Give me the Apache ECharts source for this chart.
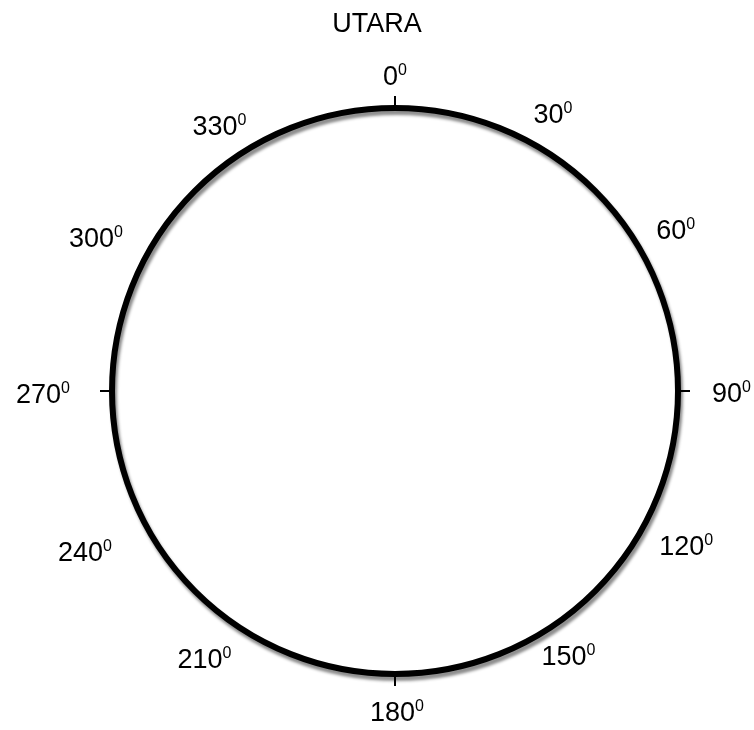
<!DOCTYPE html>
<html>
<head>
<meta charset="utf-8">
<script src="https://cdn.jsdelivr.net/npm/echarts@6/dist/echarts.min.js"></script>
<style>html,body{margin:0;padding:0;background:#fff}#c{width:754px;height:730px}</style>
</head>
<body>
<div id="c"></div>
<script>
var titleText = 'UTARA';
var labelAngles = [0, 30, 60, 90, 120, 150, 180, 210, 240, 270, 300, 330];
var tickAngles = [0, 90, 180, 270];
var degreeMark = '0';

// label nudges (presentation only): [dx, dy] in px
var labelNudge = {
  0: [0, 7], 30: [-14, 4], 60: [-3, 8], 90: [12, 4], 120: [0, -11], 150: [-6, -13],
  180: [2, 3], 210: [-11, -10], 240: [-19, -5], 270: [-20, 5], 300: [-8, 16], 330: [4, 16]
};

function paddingFor(angle, d) {
  var dx = d[0], dy = d[1];
  var rad = angle * Math.PI / 180;
  var sx = Math.sin(rad), sy = -Math.cos(rad);
  var align = Math.abs(sx) < 0.3 ? 'center' : (sx > 0 ? 'left' : 'right');
  var valign = Math.abs(sy) < 0.3 ? 'middle' : (sy > 0 ? 'top' : 'bottom');
  var p = [0, 0, 0, 0];
  if (align === 'left') p[3] = dx;
  else if (align === 'right') p[1] = -dx;
  else { if (dx > 0) p[3] = 2 * dx; else p[1] = -2 * dx; }
  if (valign === 'top') p[0] = dy;
  else if (valign === 'bottom') p[2] = -dy;
  else { if (dy > 0) p[0] = 2 * dy; else p[2] = -2 * dy; }
  return p;
}

var chart = echarts.init(document.getElementById('c'));
var font = '"Liberation Sans", Arial, sans-serif';
var C = [395, 391], R = 283;
var option = {
  backgroundColor: '#ffffff',
  animation: false,
  title: {
    text: titleText, left: 'center', top: 6,
    textStyle: { fontFamily: font, fontSize: 27, fontWeight: 'normal', color: '#000' }
  },
  polar: [
    { center: C, radius: R },
    { center: C, radius: R }
  ],
  angleAxis: [
    {
      polarIndex: 0, type: 'value', min: 0, max: 360, interval: 90, startAngle: 90, clockwise: true,
      axisLine: { show: true, lineStyle: { color: '#000', width: 6, shadowColor: 'rgba(0,0,0,0.45)', shadowBlur: 3, shadowOffsetX: 2, shadowOffsetY: 4 } },
      axisTick: { show: true, inside: false, length: 12, lineStyle: { color: '#000', width: 2 } },
      axisLabel: { show: false },
      splitLine: { show: false }
    },
    {
      polarIndex: 1, type: 'category', boundaryGap: true, startAngle: 105, clockwise: true,
      data: labelAngles.map(function (a) {
        return { value: String(a), textStyle: { padding: paddingFor(a, labelNudge[a] || [0, 0]) } };
      }),
      axisLine: { show: false },
      axisTick: { show: false },
      splitLine: { show: false },
      axisLabel: {
        show: true, margin: 22, interval: 0,
        formatter: function (v) { return '{n|' + v + '}{s|' + degreeMark + '}'; },
        rich: {
          n: { fontFamily: font, fontSize: 27, color: '#000', lineHeight: 30 },
          s: { fontFamily: font, fontSize: 16, color: '#000', verticalAlign: 'top', lineHeight: 30, padding: [0, 0, 14, 0] }
        }
      }
    }
  ],
  radiusAxis: [
    { polarIndex: 0, show: false, min: 0, max: 1 },
    { polarIndex: 1, show: false, min: 0, max: 1 }
  ],
  series: [
    { type: 'scatter', coordinateSystem: 'polar', polarIndex: 0, data: tickAngles.map(function (a) { return [0, a]; }), symbolSize: 0, silent: true }
  ]
};
chart.setOption(option);
</script>
</body>
</html>
